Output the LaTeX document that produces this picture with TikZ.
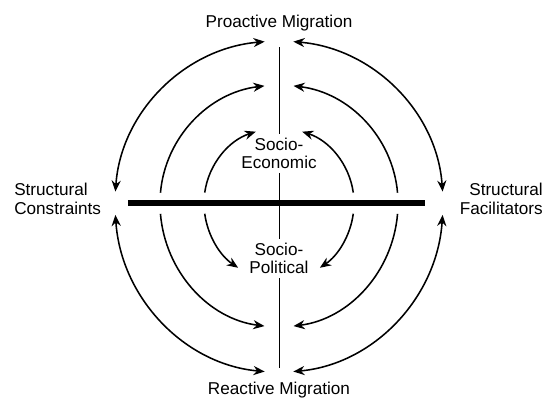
\documentclass[tikz,border=0pt]{standalone}
\usepackage{fontspec}
\setmainfont{Liberation Sans}
\usetikzlibrary{arrows.meta,positioning}

\begin{document}
\begin{tikzpicture}[
    axis/.style={line width=0.65pt},
    bar/.style={line width=3.8pt},
    ring/.style={line width=1.1pt},
    tip/.style={-{Stealth[length=8pt,width=6.5pt]}},
    twotips/.style={{Stealth[length=8pt,width=6.5pt]}-{Stealth[length=8pt,width=6.5pt]}},
    pole/.style={font=\fontsize{12.2}{14}\selectfont, inner sep=0pt},
    sector/.style={font=\fontsize{12.2}{12.5}\selectfont, align=center, inner sep=3pt}
]
    \useasboundingbox (-6.975,-4.9) rectangle (6.625,5.075);

    % Labels
    \node[pole] (pro) at (0,4.5) {Proactive Migration};
    \node[pole] (rea) at (0,-4.675) {Reactive Migration};
    \node[pole, align=left, anchor=west] (con) at (-6.625,0.1) {Structural\\Constraints};
    \node[pole, align=right, anchor=east] (fac) at (6.6,0.1) {Structural\\Facilitators};
    \node[sector] (eco) at (0,1.24) {Socio-\\Economic};
    \node[sector] (pol) at (0,-1.39) {Socio-\\Political};

    % Axes
    \coordinate (top) at (0,3.9);
    \coordinate (bot) at (0,-4.125);
    \coordinate (west) at (-3.775,0);
    \coordinate (east) at (3.65,0);
    \draw[axis] (top) -- (eco);
    \draw[axis] (eco) -- (pol);
    \draw[axis] (pol) -- (bot);
    \draw[bar] (west) -- (east);

    % Outer ring
    \draw[ring, twotips] (176:4.1 and 4.05) arc[start angle=176, end angle=95, x radius=4.1, y radius=4.05];
    \draw[ring, twotips] (85:4.1 and 4.05) arc[start angle=85, end angle=4, x radius=4.1, y radius=4.05];
    \draw[ring, twotips] (184:4.1 and 4.23) arc[start angle=184, end angle=265, x radius=4.1, y radius=4.23];
    \draw[ring, twotips] (356:4.1 and 4.23) arc[start angle=356, end angle=275, x radius=4.1, y radius=4.23];

    % Middle ring
    \draw[ring, tip] (175:2.975 and 2.95) arc[start angle=175, end angle=97, x radius=2.975, y radius=2.95];
    \draw[ring, tip] (5:2.975 and 2.95) arc[start angle=5, end angle=83, x radius=2.975, y radius=2.95];
    \draw[ring, tip] (185:2.975 and 3.1) arc[start angle=185, end angle=263, x radius=2.975, y radius=3.1];
    \draw[ring, tip] (355:2.975 and 3.1) arc[start angle=355, end angle=277, x radius=2.975, y radius=3.1];

    % Inner ring
    \draw[ring, tip] (172:1.875) arc[start angle=172, end angle=108, radius=1.875];
    \draw[ring, tip] (8:1.875) arc[start angle=8, end angle=72, radius=1.875];
    \draw[ring, tip] (188:1.875 and 1.93) arc[start angle=188, end angle=237, x radius=1.875, y radius=1.93];
    \draw[ring, tip] (352:1.875 and 1.93) arc[start angle=352, end angle=303, x radius=1.875, y radius=1.93];

\end{tikzpicture}
\end{document}
